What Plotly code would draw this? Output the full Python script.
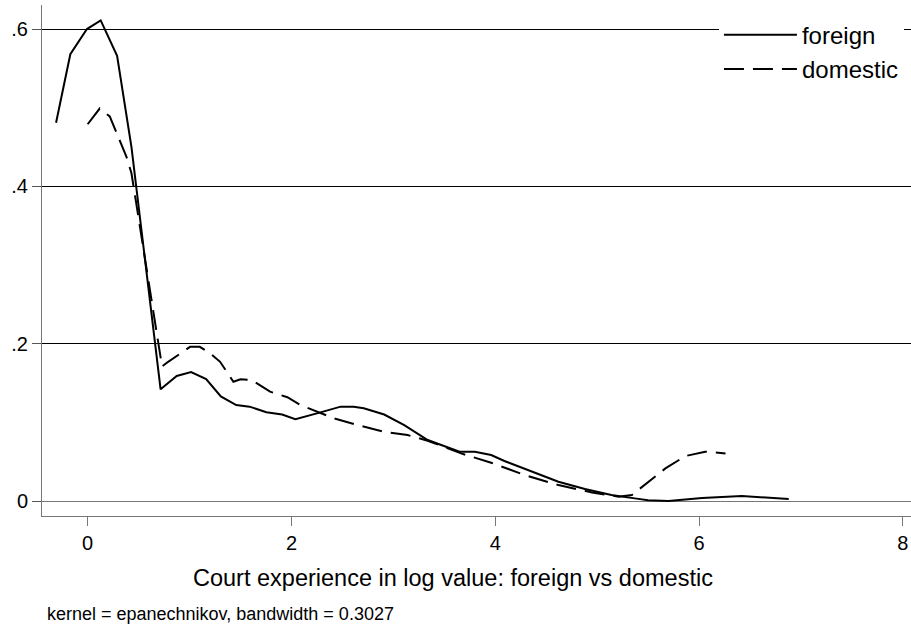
import plotly.graph_objects as go

foreign_x = [-0.31, -0.17, -0.007, 0.128, 0.289, 0.43, 0.716, 0.874, 1.015, 1.163, 1.307, 1.458,
             1.589, 1.754, 1.908, 2.039, 2.25, 2.483, 2.61, 2.71, 2.91, 3.107, 3.337, 3.65,
             3.80, 3.96, 4.09, 4.355, 4.62, 4.88, 5.14, 5.37, 5.50, 5.70, 6.03, 6.42, 6.88]
foreign_y = [0.481, 0.568, 0.600, 0.611, 0.566, 0.45, 0.142, 0.159, 0.164, 0.155, 0.133, 0.122,
             0.120, 0.113, 0.110, 0.104, 0.1115, 0.120, 0.120, 0.118, 0.110, 0.0966, 0.0776, 0.0627,
             0.0627, 0.0585, 0.0509, 0.0373, 0.0245, 0.0153, 0.0076, 0.0034, 0.001, 0.0, 0.004, 0.0064, 0.0025]

domestic_x = [0.0, 0.118, 0.217, 0.289, 0.38, 0.43, 0.73, 0.79, 1.005, 1.10, 1.20, 1.30, 1.43,
              1.50, 1.61, 1.79, 1.96, 2.09, 2.25, 2.42, 2.65, 2.91, 3.14, 3.337, 3.665, 3.96,
              4.29, 4.62, 4.95, 5.21, 5.34, 5.50, 5.67, 5.865, 6.06, 6.26]
domestic_y = [0.479, 0.499, 0.489, 0.4675, 0.438, 0.4167, 0.171, 0.177, 0.196, 0.196, 0.188, 0.177, 0.1517,
              0.1547, 0.154, 0.139, 0.132, 0.122, 0.1136, 0.105, 0.0966, 0.088, 0.0839, 0.0767, 0.0606, 0.0487,
              0.033, 0.0203, 0.011, 0.0055, 0.0076, 0.0245, 0.0415, 0.0572, 0.0627, 0.0606]

x_ticks = [0, 2, 4, 6, 8]
y_ticks = [0, 0.2, 0.4, 0.6]
y_ticklabels = ["0", ".2", ".4", ".6"]

FONT = "Liberation Sans, Arial, sans-serif"

fig = go.Figure()
fig.add_trace(go.Scatter(x=foreign_x, y=foreign_y, mode="lines", name="foreign",
                         line=dict(color="black", width=2)))
fig.add_trace(go.Scatter(x=domestic_x, y=domestic_y, mode="lines", name="domestic",
                         line=dict(color="black", width=2, dash="20px,9px")))

fig.update_layout(
    width=911, height=631,
    margin=dict(l=42, r=0, t=5, b=115, autoexpand=False),
    paper_bgcolor="white", plot_bgcolor="white",
    font=dict(family=FONT, color="black", size=20),
    showlegend=True,
    legend=dict(x=0.779, y=0.985, xanchor="left", yanchor="top",
                bgcolor="white", borderwidth=0,
                font=dict(size=24, family=FONT),
                itemwidth=73, tracegroupgap=0),
    xaxis=dict(range=[-0.448, 8.08], tickvals=x_ticks, ticks="outside", ticklen=9,
               tickcolor="#777", tickwidth=1, showline=True, linecolor="#777", linewidth=1,
               showgrid=False, zeroline=False, automargin=False,
               tickfont=dict(size=20, family=FONT)),
    yaxis=dict(range=[-0.019, 0.6306], tickvals=y_ticks, ticktext=y_ticklabels,
               ticks="outside", ticklen=9, tickcolor="#555", tickwidth=1,
               showline=True, linecolor="#777", linewidth=1,
               showgrid=True, gridcolor="black", gridwidth=1,
               zeroline=True, zerolinecolor="#777", zerolinewidth=1, automargin=False,
               tickfont=dict(size=20, family=FONT)),
    annotations=[
        dict(text="Court experience in log value: foreign vs domestic", xref="paper", yref="paper",
             x=0.473, y=-0.1213, xanchor="center", yanchor="middle", showarrow=False,
             font=dict(size=23.5, family=FONT)),
        dict(text="kernel = epanechnikov, bandwidth = 0.3027", xref="paper", yref="paper",
             x=0.003, y=-0.192, xanchor="left", yanchor="middle", showarrow=False,
             font=dict(size=18, family=FONT)),
    ],
)

fig.write_html("out.html", config={"displayModeBar": False},
               post_script="document.body.style.margin='0';")
